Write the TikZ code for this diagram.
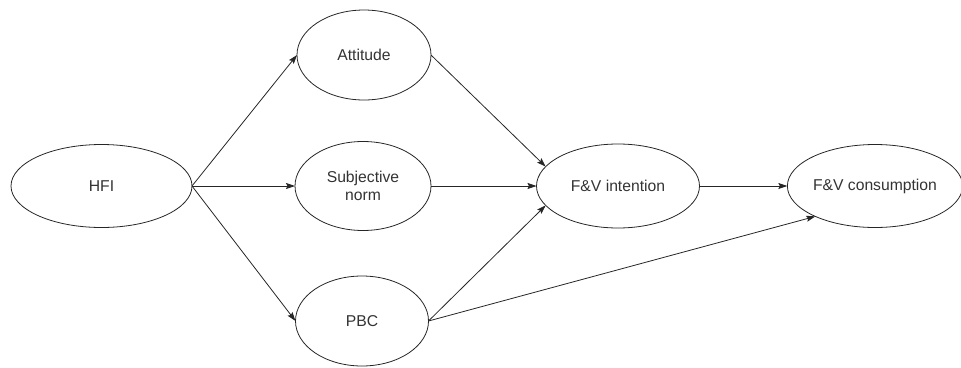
\documentclass[tikz,border=0pt]{standalone}
\usepackage{fontspec}
\setmainfont{Liberation Sans}
\usetikzlibrary{shapes.geometric,arrows.meta}
\begin{document}
\begin{tikzpicture}[x=1pt,y=-1pt,
  construct/.style={draw=black!85, line width=0.8pt, ellipse, inner sep=0pt, outer sep=0pt,
    font=\fontsize{15.7}{17.5}\selectfont, text=black!80, align=center},
  path/.style={draw=black!85, line width=0.8pt, -{Stealth[length=9pt,width=6pt,inset=1.5pt]}}]
\useasboundingbox (0,0) rectangle (961,367);
\node[construct, minimum width=181pt, minimum height=83pt] (hfi) at (101.5,186) {HFI};
\node[construct, minimum width=134pt, minimum height=90pt] (att) at (364,55) {Attitude};
\node[construct, minimum width=136pt, minimum height=89pt] (sn) at (363,186) {Subjective\\norm};
\node[construct, minimum width=133pt, minimum height=90pt] (pbc) at (362,321) {PBC};
\node[construct, minimum width=163pt, minimum height=84pt] (fvi) at (618,186) {F\&V intention};
\node[construct, minimum width=166pt, minimum height=83pt] (fvc) at (875,186) {F\&V consumption};
\draw[path] (hfi.east) -- (att.west);
\draw[path] (hfi.east) -- (sn.west);
\draw[path] (hfi.east) -- (pbc.west);
\draw[path] (att.east) -- (fvi.165);
\draw[path] (sn.east) -- (fvi.west);
\draw[path] (pbc.east) -- (fvi.195);
\draw[path] (pbc.east) -- (fvc.207);
\draw[path] (fvi.east) -- (fvc.west);
\end{tikzpicture}
\end{document}
